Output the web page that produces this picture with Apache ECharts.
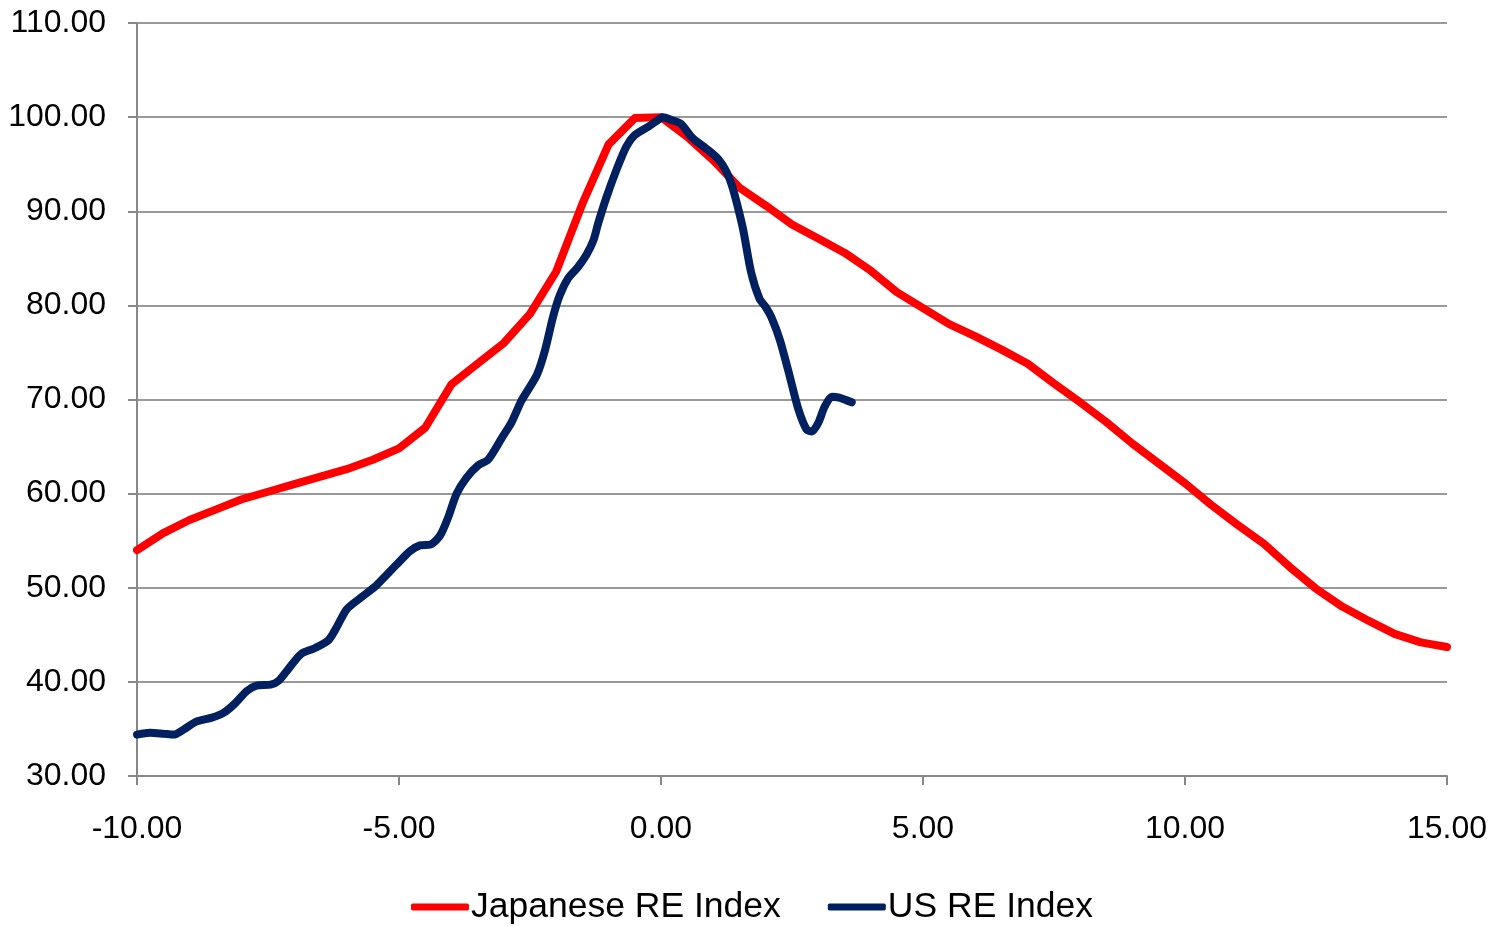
<!DOCTYPE html>
<html>
<head>
<meta charset="utf-8">
<title>Japanese vs US RE Index</title>
<script src="https://cdn.jsdelivr.net/npm/echarts@6/dist/echarts.min.js"></script>
<style>
  html, body { margin: 0; padding: 0; background: #ffffff; }
  #chart { width: 1504px; height: 927px; }
</style>
</head>
<body>
<div id="chart"></div>
<script>
// Years relative to each market's peak (0 = peak), index rebased to 100 at the peak.
const japanYears = [
  -10, -9.5, -9, -8.5, -8, -7.5, -7, -6.5, -6, -5.5, -5, -4.5, -4, -3.5, -3, -2.5, -2, -1.5, -1, -0.5,
  0, 0.5, 1, 1.5, 2, 2.5, 3, 3.5, 4, 4.5, 5, 5.5, 6, 6.5, 7, 7.5, 8, 8.5, 9, 9.5,
  10, 10.5, 11, 11.5, 12, 12.5, 13, 13.5, 14, 14.5, 15
];
const japanIndex = [
  54.0, 55.8, 57.2, 58.3, 59.4, 60.2, 61.0, 61.8, 62.6, 63.6, 64.8, 67.0, 71.6, 73.8, 76.0, 79.1, 83.6, 90.8, 97.1, 99.9,
  100.0, 97.9, 95.4, 92.5, 90.6, 88.6, 87.1, 85.6, 83.7, 81.4, 79.7, 78.0, 76.7, 75.3, 73.8, 71.7, 69.7, 67.6, 65.3, 63.2,
  61.1, 58.8, 56.7, 54.7, 52.2, 49.9, 48.0, 46.5, 45.1, 44.2, 43.7
];

const usYears = [
  -10.00, -9.75, -9.50, -9.30, -9.12, -8.86, -8.57, -8.35, -8.13, -7.91,
  -7.72, -7.45, -7.30, -7.08, -6.86, -6.60, -6.35, -6.19, -6.00, -5.74,
  -5.46, -5.23, -5.04, -4.79, -4.60, -4.40, -4.28, -4.19, -4.06, -3.90,
  -3.71, -3.49, -3.30, -3.04, -2.85, -2.66, -2.37, -2.21, -2.06, -1.93,
  -1.77, -1.58, -1.42, -1.29, -1.20, -1.04, -0.85, -0.66, -0.50, -0.24,
  -0.11, 0.04, 0.20, 0.38, 0.60, 0.90, 1.10, 1.25, 1.35, 1.45,
  1.57, 1.72, 1.88, 2.00, 2.11, 2.27, 2.46, 2.62, 2.78, 2.88,
  3.00, 3.12, 3.26, 3.40, 3.64
];
const usIndex = [
  34.4, 34.6, 34.5, 34.4, 34.9, 35.8, 36.2, 36.7, 37.7, 39.0,
  39.6, 39.7, 40.1, 41.6, 43.0, 43.6, 44.4, 45.8, 47.7, 48.9,
  50.1, 51.4, 52.5, 53.9, 54.5, 54.6, 55.1, 55.8, 57.5, 60.0,
  61.7, 63.0, 63.6, 65.9, 67.6, 69.9, 72.6, 75.3, 78.8, 81.1,
  82.9, 84.1, 85.4, 86.9, 88.7, 91.5, 94.4, 96.9, 98.1, 99.0,
  99.5, 100.0, 99.7, 99.3, 97.8, 96.5, 95.5, 94.2, 92.8, 90.8,
  88.0, 83.5, 80.7, 79.8, 78.7, 76.3, 72.4, 69.0, 66.8, 66.6,
  67.5, 69.2, 70.3, 70.2, 69.7
];

const seriesNames = ['Japanese RE Index', 'US RE Index'];
const seriesColors = ['#ff0000', '#002060'];

const pairs = (xs, ys) => xs.map((x, i) => [x, ys[i]]);

const axisFont = {
  fontFamily: '"Liberation Sans", Arial, sans-serif',
  fontSize: 32,
  color: '#000000'
};

const chart = echarts.init(document.getElementById('chart'), null, { renderer: 'canvas' });

chart.setOption({
  animation: false,
  backgroundColor: '#ffffff',
  grid: { left: 137, right: 57, top: 23, bottom: 151, containLabel: false },
  legend: {
    bottom: -3,
    left: 'center',
    icon: 'roundRect',
    itemWidth: 58,
    itemHeight: 7,
    itemGap: 47,
    textStyle: {
      fontFamily: '"Liberation Sans", Arial, sans-serif',
      fontSize: 35.5,
      color: '#000000',
      padding: [0, 0, 0, -3]
    },
    data: seriesNames
  },
  xAxis: {
    type: 'value',
    min: -10,
    max: 15,
    interval: 5,
    axisLine: { show: true, onZero: false, lineStyle: { color: '#888888', width: 2 } },
    axisTick: { show: true, length: 9, lineStyle: { color: '#888888', width: 2 } },
    splitLine: { show: false },
    axisLabel: Object.assign({ margin: 37, formatter: v => v.toFixed(2) }, axisFont)
  },
  yAxis: {
    type: 'value',
    min: 30,
    max: 110,
    interval: 10,
    axisLine: { show: true, onZero: false, lineStyle: { color: '#888888', width: 2 } },
    axisTick: { show: true, length: 9, lineStyle: { color: '#888888', width: 2 } },
    splitLine: { show: true, lineStyle: { color: '#999999', width: 2 } },
    axisLabel: Object.assign({ margin: 31, formatter: v => v.toFixed(2) }, axisFont)
  },
  series: [
    {
      name: seriesNames[0],
      type: 'line',
      data: pairs(japanYears, japanIndex),
      showSymbol: false,
      symbol: 'none',
      smooth: false,
      color: seriesColors[0],
      lineStyle: { color: seriesColors[0], width: 8, cap: 'round', join: 'round' },
      z: 2
    },
    {
      name: seriesNames[1],
      type: 'line',
      data: pairs(usYears, usIndex),
      showSymbol: false,
      symbol: 'none',
      smooth: 0.25,
      color: seriesColors[1],
      lineStyle: { color: seriesColors[1], width: 8, cap: 'round', join: 'round' },
      z: 3
    }
  ]
});
</script>
</body>
</html>
